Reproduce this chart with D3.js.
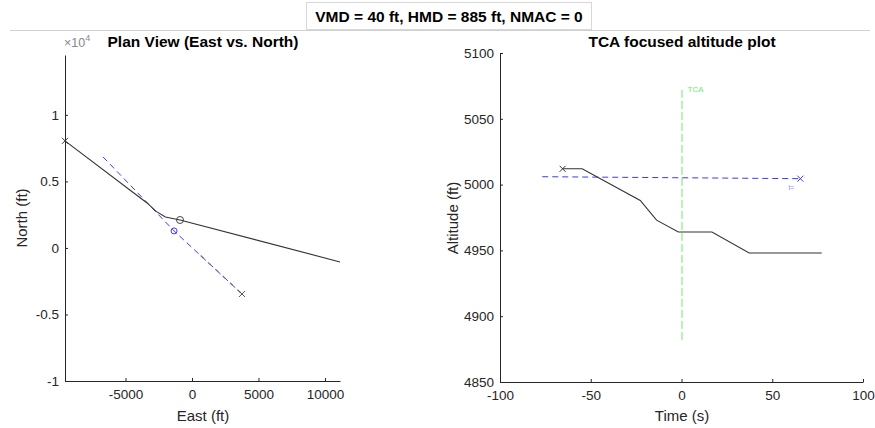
<!DOCTYPE html>
<html>
<head>
<meta charset="utf-8">
<script src="https://cdn.jsdelivr.net/npm/d3@7"></script>
<style>
  body { margin: 0; background: #fff; }
  svg text { font-family: "Liberation Sans", Arial, sans-serif; }
</style>
</head>
<body>
<svg id="fig" width="875" height="428"></svg>
<script>
// plan view data (ft)
var ownEast = [-9550, -3380, -2700, -2000, -900, 11130];
var ownNorth = [8050, 3380, 2750, 2320, 2100, -1050];
var intrEast = [-6690, -4000, -1350, 3760];
var intrNorth = [6840, 4050, 1280, -3460];
var ownCpa = [-900, 2100];
var intrCpa = [-1350, 1280];
var planXTicks = [-5000, 0, 5000, 10000];
var planYTicks = [-10000, -5000, 0, 5000, 10000];
var planYLabels = ["-1", "-0.5", "0", "0.5", "1"];

// altitude data
var ownTime = [-65.5, -55, -23, -14, -2, 16.5, 37, 77];
var ownAlt = [5012, 5012, 4988, 4973, 4964, 4964, 4948, 4948];
var intrTime = [-77, 65.5];
var intrAlt = [5006, 5004.5];
var tcaTime = [0, 0];
var tcaAlt = [4882, 5073];
var altXTicks = [-100, -50, 0, 50, 100];
var altYTicks = [4850, 4900, 4950, 5000, 5050, 5100];

var svg = d3.select("#fig");
var axisCol = "#262626";
var blue = "#3b3bf5";
var green = "#6ee86e";

// super title
svg.append("line").attr("x1", 10).attr("x2", 870).attr("y1", 30.5).attr("y2", 30.5)
  .attr("stroke", "#d0d0d0");
svg.append("rect").attr("x", 306.5).attr("y", 2.5).attr("width", 285).attr("height", 27)
  .attr("fill", "#fff").attr("stroke", "#d8d8d8");
svg.append("text").attr("x", 449).attr("y", 22).attr("text-anchor", "middle")
  .style("font-size", "15.5px").style("font-weight", "bold").attr("fill", "#000")
  .text("VMD = 40 ft, HMD = 885 ft, NMAC = 0");

function drawAxes(g, x, y, xt, yt, ylab) {
  var xAxis = d3.axisBottom(x).tickValues(xt).tickSize(-3).tickPadding(8).tickSizeOuter(0)
    .tickFormat(d => String(d));
  var yAxis = d3.axisLeft(y).tickValues(yt).tickSize(-3).tickPadding(6).tickSizeOuter(0)
    .tickFormat((d, i) => ylab ? ylab[i] : String(d));
  var gx = g.append("g").attr("transform", `translate(0,${y.range()[0]})`).call(xAxis);
  var gy = g.append("g").attr("transform", `translate(${x.range()[0]},0)`).call(yAxis);
  [gx, gy].forEach(a => {
    a.selectAll("path,line").attr("stroke", axisCol);
    a.selectAll("text").attr("fill", axisCol).style("font-size", "13.5px");
  });
}

function xMark(g, cx, cy, col) {
  g.append("path").attr("d", `M${cx-3},${cy-3}L${cx+3},${cy+3}M${cx-3},${cy+3}L${cx+3},${cy-3}`)
    .attr("stroke", col).attr("stroke-width", 1);
}

// ---------- plan view ----------
var px = d3.scaleLinear().domain([-9550, 11130]).range([65, 340]);
var py = d3.scaleLinear().domain([-10000, 14500]).range([381, 55]);
var gl = svg.append("g");
drawAxes(gl, px, py, planXTicks, planYTicks, planYLabels);

var planLine = d3.line().x(d => px(d[0])).y(d => py(d[1]));
gl.append("path").datum(intrEast.map((e, i) => [e, intrNorth[i]]))
  .attr("d", planLine).attr("fill", "none").attr("stroke", blue)
  .attr("stroke-width", 1).attr("stroke-dasharray", "6,4");
gl.append("path").datum([[intrEast[2] + 2000, intrNorth[2] - 1850], [intrEast[3], intrNorth[3]]])
  .attr("d", planLine).attr("fill", "none").attr("stroke", "#777")
  .attr("stroke-width", 1.2).attr("stroke-dasharray", "4,6");
gl.append("path").datum(ownEast.map((e, i) => [e, ownNorth[i]]))
  .attr("d", planLine).attr("fill", "none").attr("stroke", "#333").attr("stroke-width", 1.1);
gl.append("circle").attr("cx", px(ownCpa[0])).attr("cy", py(ownCpa[1])).attr("r", 3.5)
  .attr("fill", "none").attr("stroke", "#444");
gl.append("circle").attr("cx", px(intrCpa[0])).attr("cy", py(intrCpa[1])).attr("r", 3)
  .attr("fill", "none").attr("stroke", blue);
xMark(gl, px(ownEast[0]), py(ownNorth[0]), "#333");
xMark(gl, px(intrEast[3]), py(intrNorth[3]), "#555");

gl.append("text").attr("x", 203).attr("y", 47).attr("text-anchor", "middle")
  .style("font-size", "15.5px").style("font-weight", "bold").text("Plan View (East vs. North)");
gl.append("text").attr("x", 64).attr("y", 47).attr("fill", "#888").style("font-size", "12.5px")
  .html("×10<tspan dy='-6' font-size='9px'>4</tspan>");
gl.append("text").attr("x", 203).attr("y", 421).attr("text-anchor", "middle")
  .attr("fill", axisCol).style("font-size", "15px").text("East (ft)");
gl.append("text").attr("transform", "translate(27,218) rotate(-90)").attr("text-anchor", "middle")
  .attr("fill", axisCol).style("font-size", "15px").text("North (ft)");

// ---------- altitude plot ----------
var ax = d3.scaleLinear().domain([-100, 100]).range([500, 863]);
var ay = d3.scaleLinear().domain([4850, 5100]).range([382, 53]);
var gr = svg.append("g");
drawAxes(gr, ax, ay, altXTicks, altYTicks, null);

var altLine = d3.line().x(d => ax(d[0]) + 0.5).y(d => ay(d[1]));
gr.append("path").datum(tcaTime.map((t, i) => [t, tcaAlt[i]]))
  .attr("d", altLine).attr("fill", "none").attr("stroke", green).attr("stroke-width", 1)
  .attr("stroke-dasharray", "8,3");
gr.append("text").attr("x", ax(0) + 6).attr("y", ay(5070)).attr("fill", green)
  .style("font-size", "8px").text("TCA");
gr.append("path").datum(intrTime.map((t, i) => [t, intrAlt[i]]))
  .attr("d", altLine).attr("fill", "none").attr("stroke", blue).attr("stroke-width", 1)
  .attr("stroke-dasharray", "6,4");
gr.append("path").datum(ownTime.map((t, i) => [t, ownAlt[i]]))
  .attr("d", altLine).attr("fill", "none").attr("stroke", "#333").attr("stroke-width", 1.1);
xMark(gr, ax(ownTime[0]), ay(ownAlt[0]), "#333");
xMark(gr, ax(intrTime[1]), ay(intrAlt[1]), blue);
gr.append("text").attr("x", ax(intrTime[1]) - 12).attr("y", ay(intrAlt[1]) + 11)
  .attr("fill", blue).attr("opacity", 0.6).style("font-size", "7px").text("t=");

gr.append("text").attr("x", 682).attr("y", 47).attr("text-anchor", "middle")
  .style("font-size", "15.5px").style("font-weight", "bold").text("TCA focused altitude plot");
gr.append("text").attr("x", 682).attr("y", 421).attr("text-anchor", "middle")
  .attr("fill", axisCol).style("font-size", "15px").text("Time (s)");
gr.append("text").attr("transform", "translate(458,218) rotate(-90)").attr("text-anchor", "middle")
  .attr("fill", axisCol).style("font-size", "15px").text("Altitude (ft)");
</script>
</body>
</html>
